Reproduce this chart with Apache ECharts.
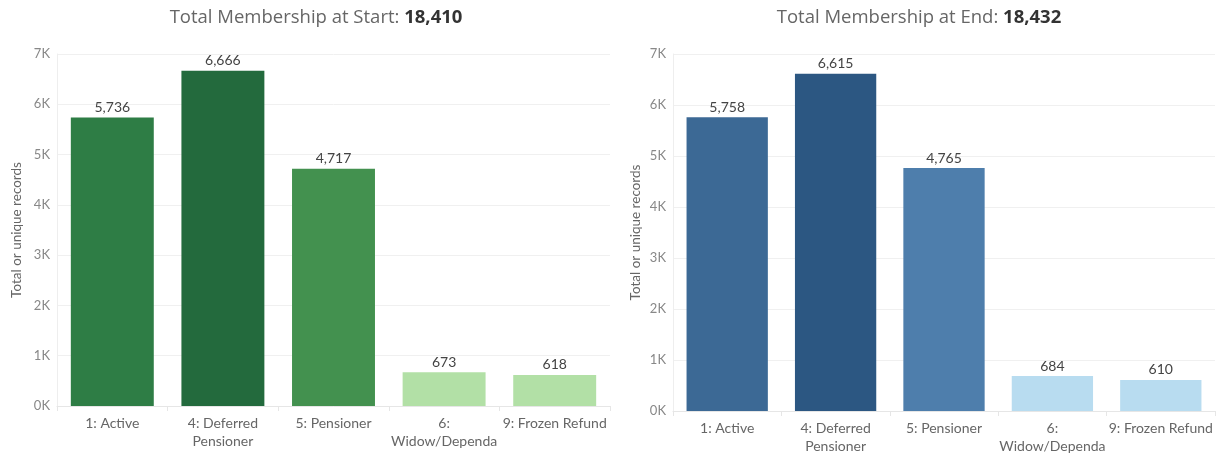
<!DOCTYPE html>
<html>
<head>
<meta charset="utf-8">
<script src="https://cdn.jsdelivr.net/npm/echarts@6/dist/echarts.min.js"></script>
<style>
html,body{margin:0;padding:0;background:#fff;}
#chart{width:1225px;height:457px;}
</style>
</head>
<body>
<div id="chart"></div>
<script>
const categories = ['1: Active', '4: Deferred\nPensioner', '5: Pensioner', '6:\nWidow/Dependant', '9: Frozen Refund'];
const startValues = [5736, 6666, 4717, 673, 618];
const endValues = [5758, 6615, 4765, 684, 610];
const yTicks = [0, 1000, 2000, 3000, 4000, 5000, 6000, 7000];

const startColors = ['#2e7d45', '#236a3d', '#43914f', '#b2e0a6', '#b2e0a6'];
const endColors = ['#3c6995', '#2c5782', '#4e7eac', '#b8dcf0', '#b8dcf0'];

const sum = a => a.reduce((s, v) => s + v, 0);
const fmt = v => v.toLocaleString('en-US');
const font = 'Lato, "Open Sans", sans-serif';
const tfont = '"Open Sans", Lato, sans-serif';

function xAxis(gi) {
  return {
    type: 'category', gridIndex: gi, data: categories,
    axisLine: { show: true, lineStyle: { color: '#e6e6e6' } },
    axisTick: { show: true, length: 5, lineStyle: { color: '#e6e6e6' } },
    axisLabel: {
      color: '#666', fontSize: 14, fontFamily: font, margin: 8, lineHeight: 18,
      interval: 0, width: 110, overflow: 'truncate', ellipsis: ''
    }
  };
}
function yAxis(gi, gap) {
  return {
    type: 'value', gridIndex: gi, min: yTicks[0], max: yTicks[yTicks.length - 1], interval: 1000,
    name: 'Total or unique records', nameLocation: 'middle', nameGap: gap,
    nameTextStyle: { color: '#666', fontSize: 13.5, fontFamily: font },
    axisLine: { show: true, lineStyle: { color: '#eeeeee' } },
    axisTick: { show: false },
    splitLine: { lineStyle: { color: '#f0f0f0' } },
    axisLabel: { color: '#888', fontSize: 13, fontFamily: font, margin: 7,
      formatter: v => (v / 1000) + 'K' }
  };
}
function series(gi, vals, colors) {
  return {
    type: 'bar', xAxisIndex: gi, yAxisIndex: gi, barCategoryGap: '25%',
    data: vals.map((v, i) => ({ value: v, itemStyle: { color: colors[i] } })),
    label: { show: true, position: 'top', distance: 3, color: '#444', fontSize: 14,
      fontFamily: font, formatter: p => fmt(p.value) }
  };
}
function title(txt, total, cx) {
  return {
    text: '{a|' + txt + ' }{b|' + fmt(total) + '}', left: cx, top: 3, textAlign: 'center',
    textStyle: { rich: {
      a: { color: '#666', fontSize: 18.5, fontWeight: 'normal', fontFamily: tfont },
      b: { color: '#333', fontSize: 18.5, fontWeight: 'bold', fontFamily: tfont }
    } }
  };
}

const chart = echarts.init(document.getElementById('chart'), null, { renderer: 'canvas' });
chart.setOption({
  animation: false,
  title: [
    title('Total Membership at Start:', sum(startValues), 311),
    title('Total Membership at End:', sum(endValues), 914)
  ],
  grid: [
    { left: 57, top: 54, width: 553, bottom: 51 },
    { left: 673, top: 54, right: 10, bottom: 46 }
  ],
  xAxis: [xAxis(0), xAxis(1)],
  yAxis: [yAxis(0, 33), yAxis(1, 30)],
  series: [series(0, startValues, startColors), series(1, endValues, endColors)]
});
</script>
</body>
</html>
